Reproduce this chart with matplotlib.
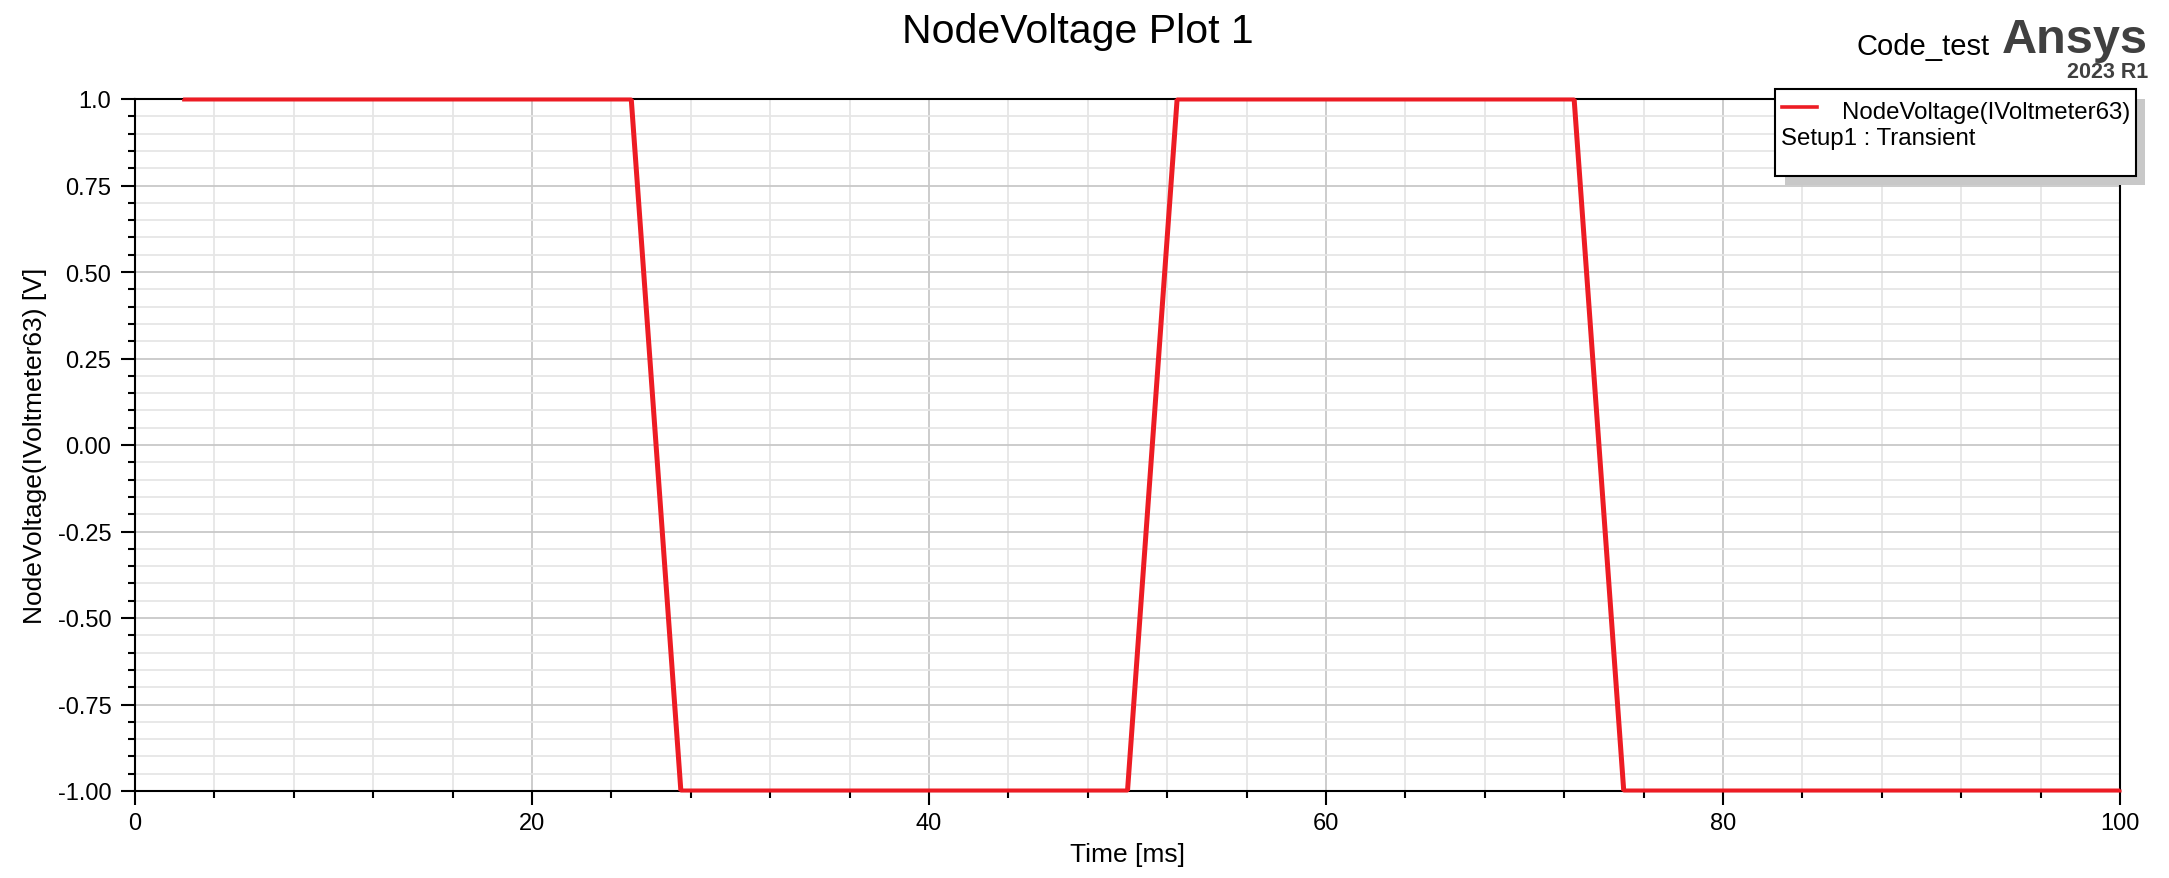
import matplotlib
matplotlib.use('Agg')
import matplotlib.pyplot as plt
import matplotlib.patches as patches
from matplotlib.lines import Line2D
from matplotlib.ticker import MultipleLocator, FixedLocator, FixedFormatter

plt.rcParams['font.family'] = ['Liberation Sans', 'DejaVu Sans']

# data
time_ms = [2.5, 25, 27.5, 50, 52.5, 72.5, 75, 100]
voltage = [1, 1, -1, -1, 1, 1, -1, -1]
ytick_values = [1.0, 0.75, 0.5, 0.25, 0.0, -0.25, -0.5, -0.75, -1.0]
ytick_labels = ['1.0', '0.75', '0.50', '0.25', '0.00', '-0.25', '-0.50', '-0.75', '-1.00']
series_name = 'NodeVoltage(IVoltmeter63)'
setup_name = 'Setup1 : Transient'

W, H = 2169, 879
fig = plt.figure(figsize=(W / 100, H / 100), dpi=100)


def fx(px):
    return px / W


def fy(py):
    return 1 - py / H


ax = fig.add_axes([fx(135), fy(792), fx(2120) - fx(135), fy(100) - fy(792)])

# thin unclipped trace plus a thicker clipped one (ramps look heavier in the original)
ax.plot(time_ms, voltage, color='#ed1c24', lw=2.2, clip_on=False, zorder=3)
ax.plot(time_ms, voltage, color='#ed1c24', lw=3.6, clip_on=True, zorder=3)

ax.set_xlim(0, 100)
ax.set_ylim(-1, 1)
ax.xaxis.set_major_locator(MultipleLocator(20))
ax.xaxis.set_minor_locator(MultipleLocator(4))
ax.yaxis.set_major_locator(FixedLocator(ytick_values))
ax.yaxis.set_major_formatter(FixedFormatter(ytick_labels))
ax.yaxis.set_minor_locator(MultipleLocator(0.05))

# grid: major darker, minor lighter
ax.grid(which='major', color='#c8c8c8', lw=1.3)
ax.grid(which='minor', color='#e6e6e6', lw=1.3)
ax.set_axisbelow(True)

for s in ax.spines.values():
    s.set_linewidth(1.5)
    s.set_color('black')

ax.tick_params(which='major', direction='out', length=10, width=1.5, labelsize=17)
ax.tick_params(which='minor', direction='out', length=5, width=1.5)
ax.tick_params(axis='y', which='major', pad=7)
ax.tick_params(axis='x', which='major', pad=5)

ax.set_xlabel('Time [ms]', fontsize=19, labelpad=6)
ax.set_ylabel(series_name + ' [V]', fontsize=19, labelpad=8)

# title and branding
fig.text(fx(1078), fy(43), 'NodeVoltage Plot 1', ha='center', va='baseline', fontsize=29.5)
fig.text(fx(1990), fy(55), 'Code_test', ha='right', va='baseline', fontsize=21)
fig.text(fx(2148), fy(53), 'Ansys', ha='right', va='baseline', fontsize=35,
         weight='bold', color='#404040')
fig.text(fx(2148), fy(78), '2023 R1', ha='right', va='baseline', fontsize=15.5,
         weight='bold', color='#404040')

# legend box with shadow
shadow = patches.Rectangle((fx(1785), fy(186)), fx(2145) - fx(1785), fy(100) - fy(186),
                           transform=fig.transFigure, facecolor='#c8c8c8',
                           edgecolor='none', zorder=5)
box = patches.Rectangle((fx(1775), fy(177)), fx(2136) - fx(1775), fy(90) - fy(177),
                        transform=fig.transFigure, facecolor='white',
                        edgecolor='black', lw=1.5, zorder=6)
fig.add_artist(shadow)
fig.add_artist(box)
fig.add_artist(Line2D([fx(1782), fx(1817)], [fy(108), fy(108)], transform=fig.transFigure,
                      color='#ed1c24', lw=2.6, zorder=7))
fig.text(fx(1842), fy(119), series_name, ha='left', va='baseline', fontsize=17.3, zorder=7)
fig.text(fx(1781), fy(145), setup_name, ha='left', va='baseline', fontsize=17.3, zorder=7)

fig.savefig('out.png', dpi=100)
